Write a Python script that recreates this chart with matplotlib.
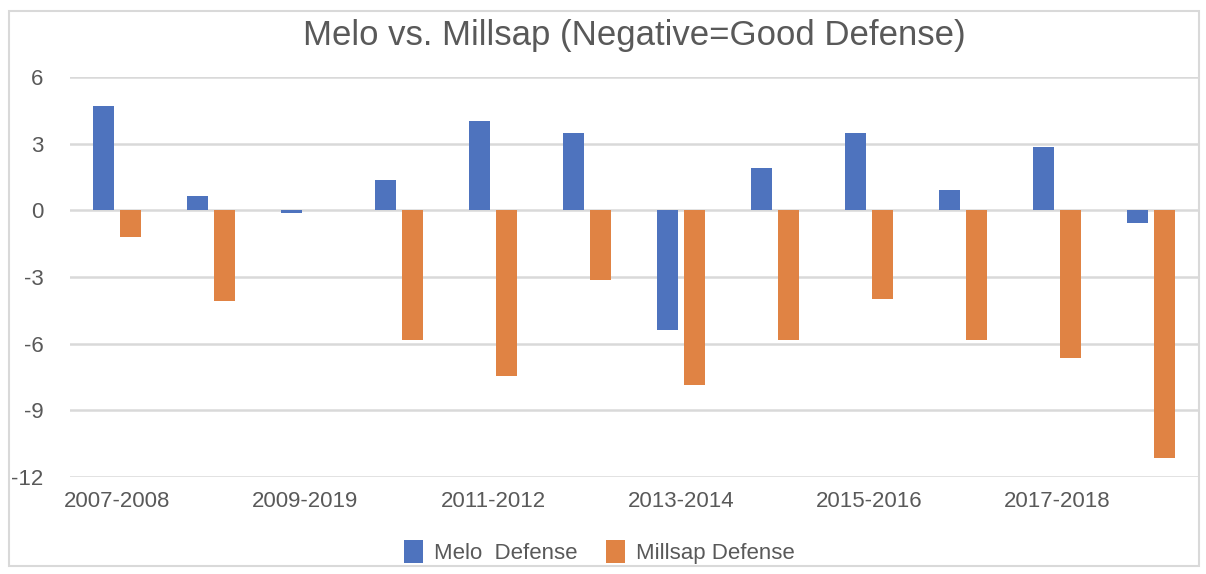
import matplotlib
matplotlib.use("Agg")
import matplotlib.pyplot as plt
import numpy as np
from matplotlib.patches import Rectangle

seasons = ["2007-2008", "2008-2009", "2009-2019", "2010-2011", "2011-2012", "2012-2013",
           "2013-2014", "2014-2015", "2015-2016", "2016-2017", "2017-2018", "2018-2019"]
melo = [4.7, 0.63, -0.1, 1.36, 4.02, 3.48, -5.38, 1.9, 3.48, 0.91, 2.85, -0.56]
millsap = [-1.2, -4.1, 0.0, -5.82, -7.45, -3.13, -7.86, -5.82, -3.99, -5.82, -6.65, -11.15]
series_names = ["Melo  Defense", "Millsap Defense"]
colors = ["#4E73BE", "#E08344"]
title = "Melo vs. Millsap (Negative=Good Defense)"

plt.rcParams['font.family'] = ['Liberation Sans', 'DejaVu Sans']
plt.rcParams['axes.unicode_minus'] = False
text_color = "#595959"
grid_color = "#D9D9D9"

fig = plt.figure(figsize=(12.06, 5.74), dpi=100)
ax = fig.add_axes([70/1206, 1-477/574, (1198-70)/1206, (477-77)/574])

x = np.arange(len(seasons))
w = 0.223
off = 0.144
ax.bar(x - off, melo, width=w, color=colors[0], label=series_names[0], zorder=3)
ax.bar(x + off, millsap, width=w, color=colors[1], label=series_names[1], zorder=3)

ax.set_xlim(-0.5, len(seasons) - 0.5)
ax.set_ylim(-12, 6)
ax.set_yticks(np.arange(-12, 7, 3))
ax.yaxis.grid(True, color=grid_color, linewidth=1.8, zorder=0)
ax.set_axisbelow(True)
ax.set_xticks(x[::2])
ax.set_xticklabels(seasons[::2])
for s in ax.spines.values():
    s.set_visible(False)
ax.tick_params(axis='both', length=0, colors=text_color, labelsize=16)
ax.tick_params(axis='y', pad=19)
ax.tick_params(axis='x', pad=10)

fig.suptitle(title, x=634/1206, y=1-35/574, va='center', fontsize=25, color=text_color)

leg = fig.legend(loc='center', bbox_to_anchor=(0.497, 1-552/574), ncol=2, frameon=False,
                 fontsize=16, handlelength=0.85, handleheight=1.2, handletextpad=0.5,
                 columnspacing=1.3)
for t in leg.get_texts():
    t.set_color(text_color)

fig.patches.append(Rectangle((9/1206, 1-566/574), (1199-9)/1206, (566-11)/574,
                             transform=fig.transFigure, fill=False,
                             edgecolor=grid_color, linewidth=1.5))

fig.savefig("out.png", dpi=100)
